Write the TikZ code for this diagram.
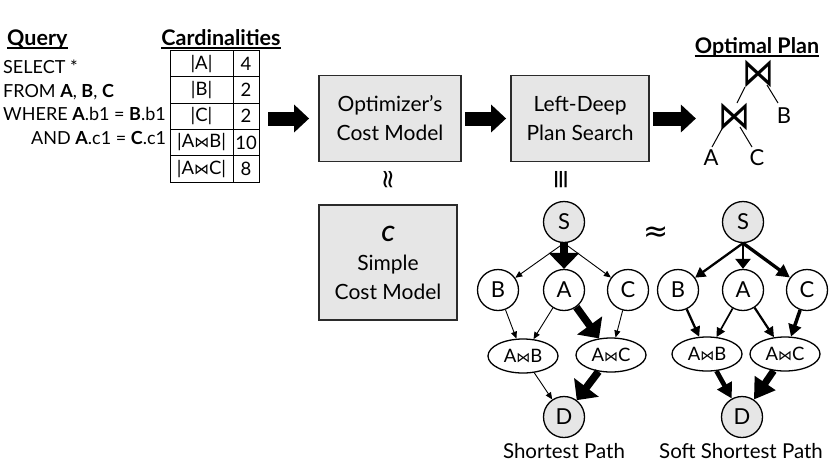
\documentclass[tikz,border=0pt]{standalone}
\usepackage{fontspec}
\setmainfont{Lato}
\newfontfamily\dejavu{DejaVu Sans}
\usetikzlibrary{arrows.meta,shapes.geometric}
\definecolor{boxfill}{HTML}{E6E6E6}
\definecolor{boxline}{HTML}{2B2B2B}
\newcommand{\btie}[1]{{\dejavu\fontsize{#1}{#1}\selectfont ⋈}}
\begin{document}
\begin{tikzpicture}[x=1pt,y=-1pt,
  heading/.style={inner sep=0pt, font=\fontsize{21.5}{24}\selectfont\bfseries},
  uline/.style={line width=1.4pt},
  qtext/.style={inner sep=0pt, anchor=base west, font=\fontsize{18}{22}\selectfont},
  tcell/.style={inner sep=0pt, font=\fontsize{18.5}{20}\selectfont},
  proc/.style={draw=boxline, line width=1.8pt, fill=boxfill, inner sep=0pt, align=center, font=\fontsize{21}{29}\selectfont},
  bigarrow/.style={line width=14pt, -{Triangle[length=15pt,width=27pt]}},
  vert/.style={circle, draw, line width=1.3pt, minimum size=41pt, inner sep=0pt, font=\fontsize{22}{24}\selectfont},
  src/.style={vert, fill=boxfill},
  jnode/.style={ellipse, draw, line width=1.3pt, minimum width=70pt, minimum height=34pt, inner sep=0pt, font=\fontsize{18.5}{20}\selectfont},
  thinarr/.style={line width=0.9pt, -{Triangle[length=7pt,width=6pt]}},
  fatarr/.style={line width=7.5pt, -{Triangle[length=16pt,width=30pt]}},
  ga/.style n args={3}{line width=#1, -{Triangle[length=#2,width=#3]}},
  caption/.style={inner sep=0pt, anchor=base, font=\fontsize{20.5}{24}\selectfont},
  plbl/.style={inner sep=0pt, font=\fontsize{22}{24}\selectfont},
  pj/.style={inner sep=0pt},
  treeline/.style={line width=1pt},
  symb/.style={inner sep=0pt}
]
\useasboundingbox (0,0) rectangle (830,467);

% ---------- Query ----------
\node[heading, anchor=base west] (hq) at (7,45) {Query};
\draw[uline] ([yshift=-3pt]hq.base west) -- ([yshift=-3pt]hq.base east);
\node[qtext] (q1) at (3,73) {SELECT *};
\node[qtext] (q2) at (3,97) {FROM \textbf{A}, \textbf{B}, \textbf{C}};
\node[qtext] (q3) at (3,120) {WHERE \textbf{A}.b1 = \textbf{B}.b1};
\node[qtext] (q4) at (31,144) {AND \textbf{A}.c1 = \textbf{C}.c1};

% ---------- Cardinalities ----------
\node[heading, anchor=base] (hc) at (221,45) {Cardinalities};
\draw[uline] ([yshift=-3pt]hc.base west) -- ([yshift=-3pt]hc.base east);
\node[draw, line width=0.9pt, minimum width=89pt, minimum height=131.5pt, inner sep=0pt] (tbl) at (214.5,116.25) {};
\draw[line width=0.9pt] (233,50.5) -- (233,182);
\foreach \yy in {76.8,103.1,129.4,155.7} \draw[line width=0.9pt] (170,\yy) -- (259,\yy);
\node[tcell] (k1) at (201.5,63.6) {|A|};
\node[tcell] (v1) at (246,63.6) {4};
\node[tcell] (k2) at (201.5,89.9) {|B|};
\node[tcell] (v2) at (246,89.9) {2};
\node[tcell] (k3) at (201.5,116.2) {|C|};
\node[tcell] (v3) at (246,116.2) {2};
\node[tcell] (k4) at (201.5,142.5) {|A\btie{15}B|};
\node[tcell] (v4) at (246,142.5) {10};
\node[tcell] (k5) at (201.5,168.8) {|A\btie{15}C|};
\node[tcell] (v5) at (246,168.8) {8};

% ---------- Boxes ----------
\node[proc, minimum width=142pt, minimum height=86pt] (box1) at (390,118.5) {Optimizer's\\Cost Model};
\node[proc, minimum width=138pt, minimum height=86pt] (box2) at (580,118.5) {Left-Deep\\Plan Search};
\node[proc, minimum width=138pt, minimum height=115pt] (box3) at (388,262.5) {\textbf{\textit{C}}\\Simple\\Cost Model};

\coordinate (a1s) at (268,118.5);
\draw[bigarrow] (a1s) -- ([xshift=-9pt]box1.west);
\draw[bigarrow] ([xshift=3pt]box1.east) -- ([xshift=-4pt]box2.west);
\draw[bigarrow] ([xshift=3pt]box2.east) -- ([xshift=46pt]box2.east);

% ---------- Optimal plan ----------
\node[heading, anchor=base] (hp) at (757,53) {Optimal Plan};
\draw[uline] ([yshift=-3pt]hp.base west) -- ([yshift=-3pt]hp.base east);
\node[pj] (j1) at (758,74) {\scalebox{1}[1.25]{\btie{32}}};
\node[pj] (j2) at (734,117) {\scalebox{1}[1.25]{\btie{32}}};
\node[plbl] (pb) at (784,116) {B};
\node[plbl] (pa) at (711,158) {A};
\node[plbl] (pc) at (757,158) {C};
\draw[treeline] ([shift={(-13,13)}]j1.center) -- ([shift={(3,-14)}]j2.center);
\draw[treeline] ([shift={(9,11)}]j1.center) -- ([shift={(-6,-13)}]pb.center);
\draw[treeline] ([shift={(-11,10)}]j2.center) -- ([shift={(1,-11)}]pa.center);
\draw[treeline] ([shift={(6,10)}]j2.center) -- ([shift={(-5,-11)}]pc.center);

% ---------- relation symbols ----------
\node[symb] (rel1) at (390,180) {\rotatebox{90}{\dejavu\fontsize{26}{26}\selectfont ≈}};
\node[symb] (rel2) at (563,180) {\rotatebox{90}{\dejavu\fontsize{26}{26}\selectfont ≡}};
\node[symb] (rel3) at (656,234) {\dejavu\fontsize{30}{30}\selectfont ≈};

% ---------- Graph 1: shortest path ----------
\node[src] (s1) at (564,222) {S};
\node[vert] (b1) at (498,290) {B};
\node[vert] (a1) at (564,290) {A};
\node[vert] (c1) at (628,290) {C};
\node[jnode] (ab1) at (523,356) {A\btie{14}B};
\node[jnode] (ac1) at (611,355) {A\btie{14}C};
\node[src] (d1) at (564,417) {D};
\node[caption] (cap1) at (564,458) {Shortest Path};
\draw[thinarr] (s1.south) -- (b1);
\draw[fatarr] (s1.south) -- (a1);
\draw[thinarr] (s1.south) -- (c1);
\draw[thinarr] (b1) -- (ab1);
\draw[thinarr] (a1) -- (ab1);
\draw[fatarr] (a1) -- (ac1);
\draw[thinarr] (c1) -- (ac1);
\draw[thinarr] (ab1) -- (d1);
\draw[fatarr] (ac1) -- (d1);

% ---------- Graph 2: soft shortest path ----------
\node[src] (s2) at (743,222) {S};
\node[vert] (b2) at (678,290) {B};
\node[vert] (a2) at (743,290) {A};
\node[vert] (c2) at (807,290) {C};
\node[jnode] (ab2) at (707,354) {A\btie{14}B};
\node[jnode] (ac2) at (785,354) {A\btie{14}C};
\node[src] (d2) at (742,417) {D};
\node[caption] (cap2) at (741,458) {Soft Shortest Path};
\draw[ga={2.3pt}{10pt}{11pt}] (s2.south) -- (b2);
\draw[ga={2.6pt}{10pt}{15pt}] (s2.south) -- (a2);
\draw[ga={3.3pt}{13pt}{13pt}] (s2.south) -- (c2);
\draw[ga={2.3pt}{10pt}{10pt}] (b2) -- (ab2);
\draw[ga={1.7pt}{9pt}{9pt}] (a2) -- (ab2);
\draw[ga={2.2pt}{10pt}{10pt}] (a2) -- (ac2);
\draw[ga={3.5pt}{12pt}{13pt}] (c2) -- (ac2);
\draw[ga={4.7pt}{15pt}{16pt}] (ab2) -- (d2);
\draw[ga={7pt}{20pt}{24pt}] (ac2) -- (d2);
\end{tikzpicture}
\end{document}
